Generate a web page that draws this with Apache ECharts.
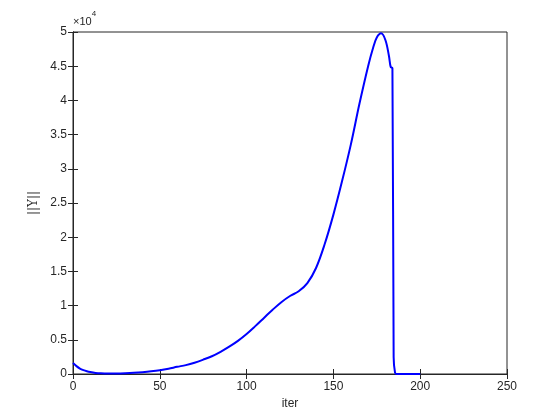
<!DOCTYPE html>
<html>
<head>
<meta charset="utf-8">
<script src="https://cdn.jsdelivr.net/npm/echarts@6/dist/echarts.min.js"></script>
<style>
	html, body { margin: 0; padding: 0; background: #fff; }
	#chart { width: 560px; height: 420px; }
</style>
</head>
<body>
<div id="chart"></div>
<script>
	// iteration numbers
	var iters = [0, 2, 4, 6, 8, 10, 13, 16, 20, 25, 30, 35, 40, 45, 50, 55, 60, 65, 70, 75,
		80, 85, 90, 95, 100, 105, 110, 115, 120, 125, 130, 135, 140, 145, 150, 155, 160,
		165, 170, 173, 175, 177.5, 180, 182, 183, 184, 184.7, 185.5, 186.5, 200];
	// ||Y|| values at those iterations
	var norms = [1600, 1150, 800, 570, 400, 280, 160, 100, 70, 80, 120, 180, 270, 390, 550, 770, 1050, 1300, 1650, 2100,
		2600, 3250, 4000, 4850, 5850, 7000, 8200, 9400, 10500, 11400, 12100, 13300, 15500, 19000, 23300, 28200, 33500,
		39500, 45000, 47800, 49200, 49800, 48800, 46500, 44900, 44700, 2500, 200, 0, 0];

	var xTicks = { min: 0, max: 250, interval: 50 };
	var yTicks = { min: 0, max: 50000, interval: 5000 };

	var points = [];
	for (var i = 0; i < iters.length; i++) {
		points.push([iters[i], norms[i]]);
	}

	var txt = '#262626';
	var font = 'Liberation Sans';

	var chart = echarts.init(document.getElementById('chart'));
	var option = {
		animation: false,
		backgroundColor: '#fff',
		grid: {
			left: 73,
			right: 53,
			top: 32,
			bottom: 46,
			show: true,
			borderColor: txt,
			borderWidth: 1
		},
		graphic: [{
			type: 'text',
			left: 73,
			top: 10,
			style: {
				text: '{a|×10}{b|4}',
				rich: {
					a: { fontSize: 11, fontFamily: font, fill: txt, verticalAlign: 'bottom', padding: [6, 0, 0, 0] },
					b: { fontSize: 8, fontFamily: font, fill: txt, verticalAlign: 'top' }
				}
			}
		}],
		xAxis: [{
			type: 'value',
			min: xTicks.min,
			max: xTicks.max,
			interval: xTicks.interval,
			name: 'iter',
			nameLocation: 'middle',
			nameGap: 24,
			nameTextStyle: { color: txt, fontSize: 12, fontFamily: font },
			axisLine: { show: true, lineStyle: { color: txt } },
			axisTick: { show: true, inside: true, length: 5, lineStyle: { color: txt } },
			axisLabel: { color: txt, fontSize: 12, fontFamily: font, margin: 7 },
			splitLine: { show: false }
		}, {
			type: 'value',
			position: 'top',
			min: xTicks.min,
			max: xTicks.max,
			interval: xTicks.interval,
			axisLine: { show: true, lineStyle: { color: txt } },
			axisTick: { show: true, inside: true, length: 5, lineStyle: { color: txt } },
			axisLabel: { show: false },
			splitLine: { show: false }
		}],
		yAxis: [{
			type: 'value',
			min: yTicks.min,
			max: yTicks.max,
			interval: yTicks.interval,
			name: '||Υ||',
			nameLocation: 'middle',
			nameGap: 20,
			nameRotate: 90,
			nameTextStyle: { color: txt, fontSize: 12, fontFamily: 'DejaVu Serif' },
			axisLine: { show: true, lineStyle: { color: txt } },
			axisTick: { show: true, inside: true, length: 5, lineStyle: { color: txt } },
			axisLabel: {
				color: txt, fontSize: 12, fontFamily: font, margin: 6,
				formatter: function(v) { return String(v / 10000); }
			},
			splitLine: { show: false }
		}, {
			type: 'value',
			position: 'right',
			min: yTicks.min,
			max: yTicks.max,
			interval: yTicks.interval,
			axisLine: { show: true, lineStyle: { color: txt } },
			axisTick: { show: true, inside: true, length: 5, lineStyle: { color: txt } },
			axisLabel: { show: false },
			splitLine: { show: false }
		}],
		series: [{
			type: 'line',
			data: points,
			showSymbol: false,
			smooth: 0.35,
			lineStyle: { color: '#0000ff', width: 2 },
			itemStyle: { color: '#0000ff' }
		}]
	};
	chart.setOption(option);
</script>
</body>
</html>
